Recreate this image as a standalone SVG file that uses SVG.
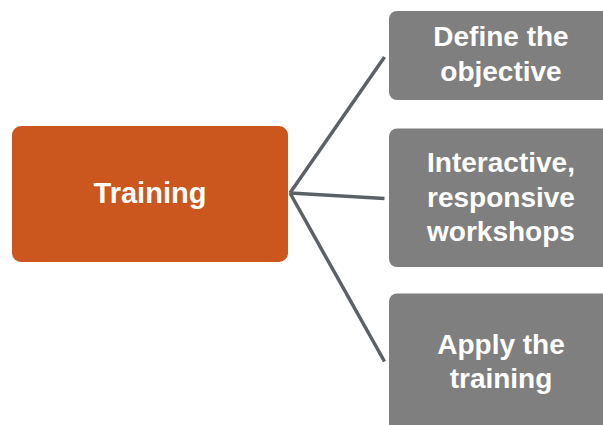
<svg xmlns="http://www.w3.org/2000/svg" width="603" height="425" viewBox="0 0 603 425">
<style>
.t{font-family:"Liberation Sans",Arial,sans-serif;font-weight:bold;font-size:28px;fill:#ffffff;text-anchor:middle}
.box{fill:#7f7f7f}
.c{stroke:#5c6168;stroke-width:3.5;fill:none;stroke-linecap:butt}
</style>
<rect width="603" height="425" fill="#ffffff"/>
<g id="connectors">
<line class="c" x1="290" y1="193" x2="384.5" y2="57"/>
<line class="c" x1="290" y1="193" x2="384.5" y2="198.5"/>
<line class="c" x1="290" y1="193" x2="384.5" y2="361.5"/>
</g>
<g id="training">
<rect x="12" y="126" width="276" height="136" rx="9" fill="#cb561e"/>
<text class="t" x="150" y="203" style="font-size:29px">Training</text>
</g>
<g id="define">
<rect class="box" x="389" y="11" width="226" height="89" rx="8"/>
<text class="t" x="501" y="46">Define the</text>
<text class="t" x="501" y="80.5">objective</text>
</g>
<g id="workshops">
<rect class="box" x="389" y="128.5" width="226" height="138.5" rx="8"/>
<text class="t" x="501" y="172">Interactive,</text>
<text class="t" x="501" y="206.5">responsive</text>
<text class="t" x="501" y="241">workshops</text>
</g>
<g id="apply">
<rect class="box" x="389" y="293.5" width="226" height="145" rx="8"/>
<text class="t" x="501" y="354">Apply the</text>
<text class="t" x="501" y="388">training</text>
</g>
</svg>
